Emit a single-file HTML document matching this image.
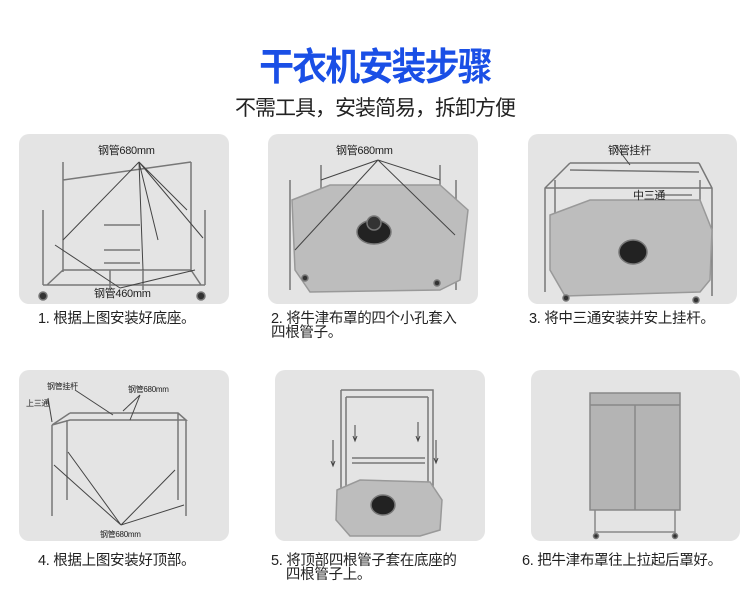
<!DOCTYPE html>
<html><head><meta charset="utf-8"><style>
body{margin:0;width:750px;height:606px;background:#fff;position:relative;overflow:hidden;font-family:"Liberation Sans","Noto Sans CJK SC",sans-serif}
.t{position:absolute;left:0;width:750px;text-align:center;white-space:nowrap}
.p{position:absolute;background:#e4e4e4;border-radius:10px}
.c{position:absolute;font-size:14.5px;color:#222;line-height:14px;white-space:nowrap;letter-spacing:-0.3px}
svg{position:absolute;left:0;top:0}
</style></head><body>
<div class="t" style="top:36px;font-size:38px;font-weight:bold;color:#1a4fe6;letter-spacing:-2px;transform:scaleX(.92)">干衣机安装步骤</div>
<div class="t" style="top:92px;font-size:21px;color:#222;letter-spacing:-1px">不需工具，安装简易，拆卸方便</div>

<div class="p" style="left:19px;top:134px;width:210px;height:170px"></div>
<div class="p" style="left:268px;top:134px;width:210px;height:170px"></div>
<div class="p" style="left:528px;top:134px;width:209px;height:170px"></div>
<div class="p" style="left:19px;top:370px;width:210px;height:171px"></div>
<div class="p" style="left:275px;top:370px;width:210px;height:171px"></div>
<div class="p" style="left:531px;top:370px;width:209px;height:171px"></div>

<svg width="750" height="606" stroke="#777" fill="none" stroke-width="1.5">
<path d="M63 162V272M191 162V272M43 210V285M205 210V285M63 180L191 162M63 270L191 270M43 285L205 285M47 285L63 270M201 285L191 270M110 270V290M143 270V290M104 225H140M104 250H140M104 263H140"/>
<path stroke="#444" stroke-width="1" d="M139 162L63 240M139 162L158 240M139 162L143 270M139 162L187 210M139 162L203 238M55 245L120 288M195 270L120 288"/>
<circle cx="43" cy="296" r="4" fill="#333"/><circle cx="201" cy="296" r="4" fill="#333"/>
<path d="M321 165V270M440 165V270M290 180V290M456 180V290"/>
<path fill="#bdbdbd" stroke="#999" d="M292 200L330 185L440 185L468 210L460 280L440 290L310 292L295 270Z"/>
<path stroke="#444" stroke-width="1" d="M378 160L321 180M378 160L440 180M378 160L295 250M378 160L455 235"/>
<ellipse cx="374" cy="232" rx="17" ry="12" fill="#222"/><circle cx="374" cy="223" r="7" fill="#333"/>
<circle cx="305" cy="278" r="3" fill="#333"/><circle cx="437" cy="283" r="3" fill="#333"/>
<path d="M570 163L545 188V292M699 163L712 188V296M570 163L699 163M570 170L699 172M545 188L712 188M555 180V250M700 180V250"/>
<path fill="#bdbdbd" stroke="#999" d="M550 215L590 200L700 200L712 230L710 280L700 292L565 296L550 270Z"/>
<path stroke="#444" stroke-width="1" d="M615 145L630 165M657 195L692 195"/>
<ellipse cx="633" cy="252" rx="14" ry="12" fill="#222"/>
<circle cx="566" cy="298" r="3" fill="#333"/><circle cx="696" cy="300" r="3" fill="#333"/>
<path d="M70 413L178 413L186 420L70 420L52 425M52 425V516M186 420V516M67 420V500M178 413V500M52 425L70 413"/>
<path stroke="#444" stroke-width="1" d="M48 398L52 422M75 390L113 415M140 395L123 411M140 395L130 420M121 525L54 465M121 525L68 452M121 525L175 470M121 525L184 505"/>
<path d="M341 390H433V513M341 390V513M346 397H428M346 397V513M428 397V513M352 458H425M352 463H425"/>
<path fill="#bdbdbd" stroke="#999" d="M337 490L360 480L430 482L442 500L440 530L420 536L350 536L336 520Z"/>
<ellipse cx="383" cy="505" rx="12" ry="10" fill="#222"/>
<path stroke="#444" stroke-width="1" d="M333 440V465M331 461L333 466L335 461M355 425V440M353 436L355 441L357 436M418 422V440M416 436L418 441L420 436M436 440V462M434 458L436 463L438 458"/>
<rect x="590" y="393" width="90" height="117" fill="#b4b4b4" stroke="#888"/>
<path stroke="#888" d="M590 405H680M635 405V510M595 510V535M675 510V535M595 532H675"/>
<circle cx="596" cy="536" r="2.5" fill="#333"/><circle cx="675" cy="536" r="2.5" fill="#333"/>
</svg>

<div class="c" style="left:98px;top:144px;font-size:11px">钢管680mm</div>
<div class="c" style="left:94px;top:287px;font-size:11px">钢管460mm</div>
<div class="c" style="left:336px;top:144px;font-size:11px">钢管680mm</div>
<div class="c" style="left:608px;top:144px;font-size:11px">钢管挂杆</div>
<div class="c" style="left:633px;top:189px;font-size:11px">中三通</div>
<div class="c" style="left:47px;top:380px;font-size:8px">钢管挂杆</div>
<div class="c" style="left:128px;top:383px;font-size:8px">钢管680mm</div>
<div class="c" style="left:26px;top:397px;font-size:8px">上三通</div>
<div class="c" style="left:100px;top:528px;font-size:8px">钢管680mm</div>

<div class="c" style="left:38px;top:312px">1. 根据上图安装好底座。</div>
<div class="c" style="left:271px;top:312px">2. 将牛津布罩的四个小孔套入<br>四根管子。</div>
<div class="c" style="left:529px;top:312px">3. 将中三通安装并安上挂杆。</div>
<div class="c" style="left:38px;top:554px">4. 根据上图安装好顶部。</div>
<div class="c" style="left:271px;top:554px">5. 将顶部四根管子套在底座的<br>&nbsp;&nbsp;&nbsp;&nbsp;四根管子上。</div>
<div class="c" style="left:522px;top:554px">6. 把牛津布罩往上拉起后罩好。</div>
</body></html>
